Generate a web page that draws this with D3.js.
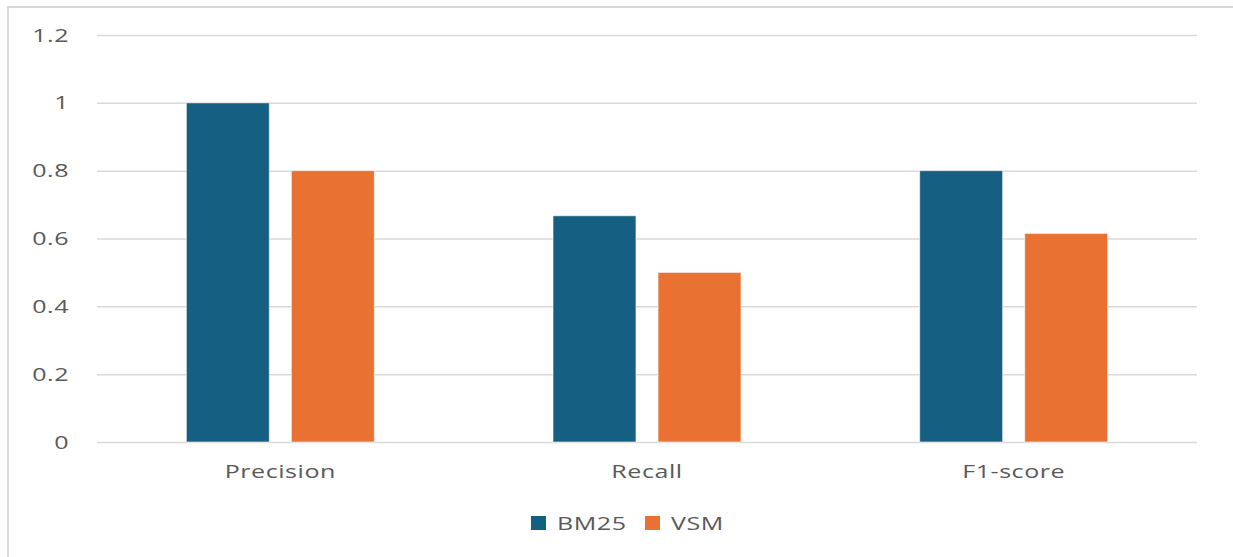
<!DOCTYPE html>
<html>
<head>
<meta charset="utf-8">
<script src="https://cdn.jsdelivr.net/npm/d3@7"></script>
<style>
  body { margin: 0; background: #fff; }
  text { font-family: 'Open Sans', sans-serif; fill: #595959; }
  .wide { transform-box: fill-box; transform: scaleX(1.32); }
</style>
</head>
<body>
<script>
const categories = ['Precision', 'Recall', 'F1-score'];
const seriesNames = ['BM25', 'VSM'];
const bm25Values = [1, 0.667, 0.8];
const vsmValues = [0.8, 0.5, 0.615];
const yTicks = [0, 0.2, 0.4, 0.6, 0.8, 1, 1.2];
const colors = ['#156082', '#E97132'];

const fullWidth = 1233;
const fullHeight = 557;
const margin = { top: 35, right: 36, bottom: 115, left: 97 };
const width = fullWidth - margin.left - margin.right;
const height = fullHeight - margin.top - margin.bottom;

const svg = d3.select('body')
  .append('svg')
  .attr('width', fullWidth)
  .attr('height', fullHeight);

// Frame (only top and left edges show)
svg.append('path')
  .attr('d', `M8,${fullHeight} L8,7 L${fullWidth},7`)
  .attr('fill', 'none')
  .attr('stroke', '#d9d9d9')
  .attr('stroke-width', 2);

const g = svg.append('g')
  .attr('transform', `translate(${margin.left}, ${margin.top})`);

const x = d3.scaleBand()
  .domain(categories)
  .range([0, width]);

const x1 = d3.scaleBand()
  .domain(seriesNames)
  .range([x.bandwidth() / 2 - 94, x.bandwidth() / 2 + 94])
  .paddingInner(0.21);

const y = d3.scaleLinear()
  .domain([0, 1.2])
  .range([height, 0]);

// Gridlines and y labels
const yAxis = g.append('g')
  .call(d3.axisLeft(y).tickValues(yTicks).tickSize(-width).tickPadding(28)
    .tickFormat(d3.format('~g')));
yAxis.select('.domain').remove();
yAxis.selectAll('line').attr('stroke', '#d9d9d9').attr('stroke-width', 1.5);
yAxis.selectAll('text')
  .attr('class', 'wide')
  .style('transform-origin', 'right')
  .style('font-family', "'Open Sans', sans-serif")
  .style('font-size', '19px')
  .style('letter-spacing', '0.4px')
  .style('fill', '#595959');

const data = categories.map((c, i) => ({ cat: c, vals: [bm25Values[i], vsmValues[i]] }));

const group = g.selectAll('.cat')
  .data(data)
  .enter()
  .append('g')
  .attr('transform', d => `translate(${x(d.cat)}, 0)`);

group.selectAll('rect')
  .data(d => d.vals.map((v, i) => ({ name: seriesNames[i], v, i })))
  .enter()
  .append('rect')
  .attr('x', d => x1(d.name))
  .attr('y', d => y(d.v))
  .attr('width', x1.bandwidth())
  .attr('height', d => height - y(d.v))
  .attr('fill', d => colors[d.i])
  .attr('stroke', '#ffffff')
  .attr('stroke-opacity', 0.6)
  .attr('stroke-width', 1);

// X labels
const xAxis = g.append('g')
  .attr('transform', `translate(0, ${height})`)
  .call(d3.axisBottom(x).tickSize(0).tickPadding(23));
xAxis.select('.domain').remove();
xAxis.selectAll('text')
  .attr('class', 'wide')
  .style('transform-origin', 'center')
  .style('font-family', "'Open Sans', sans-serif")
  .style('font-size', '19px')
  .style('letter-spacing', '0.4px')
  .style('fill', '#595959');

// Legend
const legend = svg.append('g')
  .attr('transform', 'translate(531, 530)');

const legendX = [0, 114];
seriesNames.forEach((name, i) => {
  legend.append('rect')
    .attr('x', legendX[i])
    .attr('y', -14)
    .attr('width', 15)
    .attr('height', 14)
    .attr('fill', colors[i]);
  legend.append('text')
    .attr('class', 'wide')
    .style('transform-origin', 'left')
    .attr('x', legendX[i] + 26)
    .attr('y', 0)
    .style('font-size', '19px')
    .style('letter-spacing', '0.4px')
    .text(name);
});
</script>
</body>
</html>
